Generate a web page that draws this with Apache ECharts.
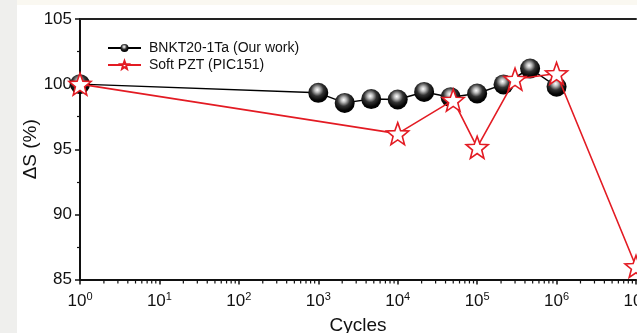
<!DOCTYPE html>
<html>
<head>
<meta charset="utf-8">
<script src="https://cdn.jsdelivr.net/npm/echarts@6/dist/echarts.min.js"></script>
<style>
html,body{margin:0;padding:0;background:#efefed;}
#wrap{position:absolute;left:0;top:0;width:637px;height:333px;background:#efefed;}
#topstrip{position:absolute;left:17px;top:0;width:620px;height:5px;background:#faf8f1;}
#chart{position:absolute;left:0;top:0;width:637px;height:333px;}
</style>
</head>
<body>
<div id="wrap"><div id="topstrip"></div></div>
<div id="chart"></div>
<script>
// ---- data ----
var bnktCycles = [1, 1000, 2150, 4640, 10000, 21500, 46400, 100000, 215000, 464000, 1000000];
var bnktDS     = [100, 99.33, 98.56, 98.85, 98.82, 99.4, 99.0, 99.28, 99.98, 101.2, 99.8];
var pztCycles  = [1, 10000, 50000, 100000, 300000, 1000000, 10000000];
var pztDS      = [100, 96.2, 98.77, 95.15, 100.38, 100.82, 86.0];
var xTickExponents = [0, 1, 2, 3, 4, 5, 6, 7];
var xMinorTicks = [];
xTickExponents.slice(0, -1).forEach(function (e) {
  for (var m = 2; m <= 9; m++) xMinorTicks.push(m * Math.pow(10, e));
});
var yTicks = [85, 90, 95, 100, 105];
var seriesNames = ['BNKT20-1Ta (Our work)', 'Soft PZT (PIC151)'];

// star symbol path
function starPath() {
  var pts = [];
  for (var i = 0; i < 10; i++) {
    var r = (i % 2 === 0) ? 10 : 4.2;
    var a = -Math.PI / 2 + i * Math.PI / 5;
    pts.push((r * Math.cos(a)).toFixed(3) + ',' + (r * Math.sin(a)).toFixed(3));
  }
  return 'path://M' + pts.join('L') + 'Z';
}
var STAR = starPath();
var sphere = {
  type: 'radial', x: 0.45, y: 0.35, r: 0.7,
  colorStops: [
    {offset: 0, color: '#ffffff'},
    {offset: 0.18, color: '#bdbdbd'},
    {offset: 0.45, color: '#333333'},
    {offset: 0.75, color: '#050505'},
    {offset: 1, color: '#000000'}
  ]
};

var FONT = 'Liberation Sans, Arial, sans-serif';
var chart = echarts.init(document.getElementById('chart'), null, {renderer: 'canvas'});
var xmin = Math.pow(10, xTickExponents[0]);
var xmax = Math.pow(10, xTickExponents[xTickExponents.length - 1]);

chart.setOption({
  backgroundColor: 'transparent',
  animation: false,
  graphic: [{
    type: 'rect', left: 17, top: 5, z: -10, silent: true,
    shape: {width: 620, height: 328},
    style: {fill: '#ffffff'}
  }],
  grid: {left: 80, right: 1, top: 19, bottom: 53.5, containLabel: false, outerBoundsMode: 'none'},
  legend: {
    orient: 'vertical', left: 102, top: 36,
    itemWidth: 33, itemHeight: 10, itemGap: 3,
    textStyle: {fontFamily: FONT, fontSize: 14, color: '#111', padding: [0, 0, 0, 3]},
    data: seriesNames
  },
  xAxis: [{
    type: 'log', logBase: 10, min: xmin, max: xmax, position: 'bottom',
    name: 'Cycles', nameLocation: 'middle', nameGap: 37, nameMoveOverlap: false,
    nameTextStyle: {fontFamily: FONT, fontSize: 19, color: '#111'},
    axisLine: {show: true, onZero: false, lineStyle: {color: '#111', width: 2}},
    axisTick: {show: true, length: 5, lineStyle: {color: '#111', width: 1.5}},
    axisLabel: {
      margin: 12, color: '#111', fontFamily: FONT, fontSize: 17,
      formatter: function (v) {
        var e = Math.round(Math.log10(v));
        return '10{sup|' + e + '}';
      },
      rich: {sup: {fontSize: 11, fontFamily: FONT, color: '#111', verticalAlign: 'top', padding: [0, 0, 9, 0]}}
    },
    splitLine: {show: false}
  }, {
    type: 'log', logBase: 10, min: xmin, max: xmax, position: 'top',
    axisLine: {show: true, onZero: false, lineStyle: {color: '#222', width: 2}},
    axisTick: {show: false}, axisLabel: {show: false}, splitLine: {show: false}
  }],
  yAxis: {
    type: 'value', min: yTicks[0], max: yTicks[yTicks.length - 1], interval: 5,
    name: 'ΔS (%)', nameLocation: 'middle', nameGap: 40, nameRotate: 90, nameMoveOverlap: false,
    nameTextStyle: {fontFamily: FONT, fontSize: 19, color: '#111'},
    axisLine: {show: true, onZero: false, lineStyle: {color: '#111', width: 2}},
    axisTick: {show: true, length: 5, lineStyle: {color: '#111', width: 1.5}},
    minorTick: {show: true, splitNumber: 2, length: 3, lineStyle: {color: '#111', width: 1.2}},
    axisLabel: {margin: 8, color: '#111', fontFamily: FONT, fontSize: 17},
    splitLine: {show: false}
  },
  series: [{
    name: 'minorTicks', type: 'custom', xAxisIndex: 0, clip: false, silent: true,
    data: xMinorTicks.map(function (v) { return [v, yTicks[0]]; }),
    renderItem: function (params, api) {
      var p = api.coord([api.value(0), api.value(1)]);
      return {
        type: 'line',
        shape: {x1: p[0], y1: p[1] + 1, x2: p[0], y2: p[1] + 4},
        style: {stroke: '#111', lineWidth: 1.2}
      };
    },
    z: 1
  }, {
    name: seriesNames[0], type: 'line', xAxisIndex: 0,
    data: bnktCycles.map(function (c, i) { return [c, bnktDS[i]]; }),
    symbol: 'circle', symbolSize: 20, clip: false,
    lineStyle: {color: '#000', width: 1.5},
    itemStyle: {color: sphere, borderWidth: 0},
    z: 2
  }, {
    name: seriesNames[1], type: 'line', xAxisIndex: 0,
    data: pztCycles.map(function (c, i) { return [c, pztDS[i]]; }),
    symbol: STAR, symbolSize: 22, clip: false,
    lineStyle: {color: '#e31b23', width: 1.6},
    itemStyle: {color: '#ffffff', borderColor: '#e31b23', borderWidth: 1.6},
    z: 3
  }]
});
</script>
</body>
</html>
